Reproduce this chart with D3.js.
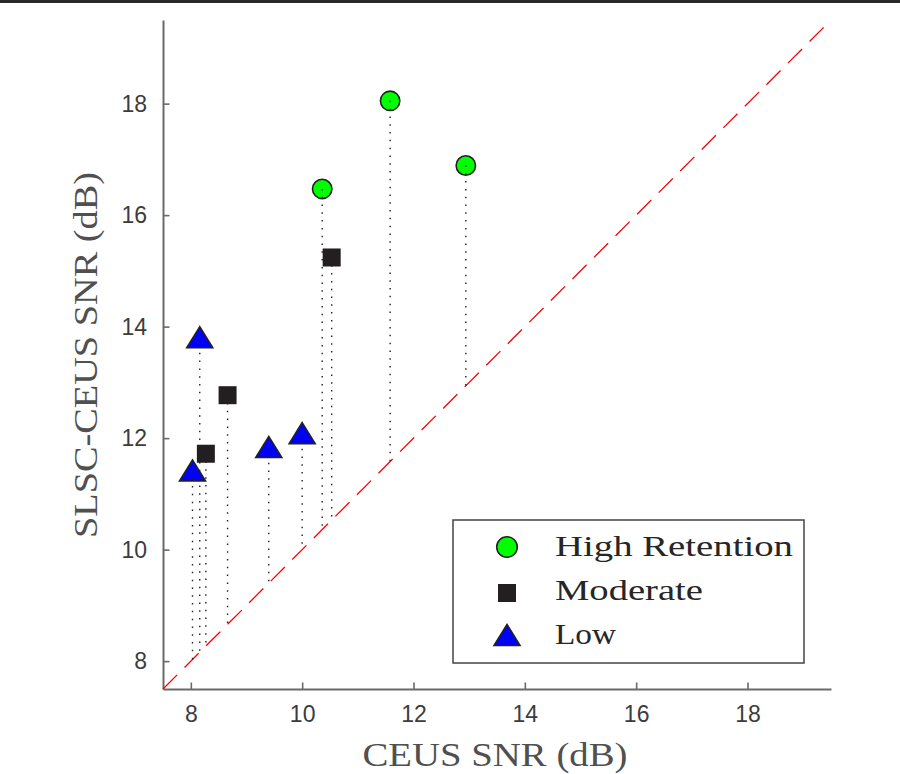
<!DOCTYPE html>
<html>
<head>
<meta charset="utf-8">
<title>SLSC-CEUS vs CEUS SNR</title>
<style>
    body { margin: 0; background: #fff; }
    .axis .domain { stroke: #6a6a6a; stroke-width: 2; }
    .axis .tick line { stroke: #6a6a6a; stroke-width: 1.6; }
    .axis text { font-family: "Liberation Sans", Arial, sans-serif; font-size: 23px; fill: #3c3c3c; }
</style>
</head>
<body>
<svg width="900" height="774"></svg>
<script src="https://d3js.org/d3.v7.min.js"></script>
<script>

    // values
    var highX = [10.36, 11.58, 12.94],
        highY = [16.47, 18.05, 16.89];
    var modX = [8.27, 8.66, 10.53],
        modY = [11.72, 12.77, 15.24];
    var lowX = [8.03, 8.16, 9.40, 10.00],
        lowY = [11.42, 13.81, 11.84, 12.09];
    var xTicks = [8, 10, 12, 14, 16, 18],
        yTicks = [8, 10, 12, 14, 16, 18];
    var legendLabels = ["High Retention", "Moderate", "Low"];
    var legendWidths = [238, 148, 61];

    var svg = d3.select("svg");

    // dark strip along the top edge
    svg.append("rect")
        .attr("x", 0).attr("y", 0)
        .attr("width", 900).attr("height", 3)
        .attr("fill", "#2a2a2a");

    var x = d3.scaleLinear().domain([7.5, 19.5]).range([163, 831]);
    var y = d3.scaleLinear().domain([7.5, 19.5]).range([689, 20]);

    var triangle = "M0,-10.5L13,10.5L-13,10.5Z";

    function pts(xs, ys) {
        return xs.map(function (v, i) { return {x: v, y: ys[i]}; });
    }
    var high = pts(highX, highY), mod = pts(modX, modY), low = pts(lowX, lowY);

    // axes
    svg.append("g")
        .attr("class", "axis")
        .attr("transform", "translate(0,689)")
        .call(d3.axisBottom(x).tickValues(xTicks).tickSizeInner(-6.5).tickSizeOuter(0).tickPadding(17));

    svg.append("g")
        .attr("class", "axis")
        .attr("transform", "translate(163,0)")
        .call(d3.axisLeft(y).tickValues(yTicks).tickSizeInner(-6.5).tickSizeOuter(0).tickPadding(16));

    // y = x reference line
    svg.append("line")
        .attr("x1", x(7.5)).attr("y1", y(7.5))
        .attr("x2", x(19.5)).attr("y2", y(19.5))
        .attr("stroke", "#ff0000")
        .attr("stroke-width", 1.3)
        .attr("stroke-dasharray", "20,10.5");

    // markers
    svg.append("g").selectAll("path")
        .data(low)
        .enter().append("path")
        .attr("d", triangle)
        .attr("transform", function (d) { return "translate(" + x(d.x) + "," + y(d.y) + ")"; })
        .attr("fill", "#0000ff")
        .attr("stroke", "#222")
        .attr("stroke-width", 1.6)
        .attr("stroke-linejoin", "miter");

    svg.append("g").selectAll("rect")
        .data(mod)
        .enter().append("rect")
        .attr("x", function (d) { return x(d.x) - 9; })
        .attr("y", function (d) { return y(d.y) - 9; })
        .attr("width", 18)
        .attr("height", 18)
        .attr("fill", "#231f20");

    svg.append("g").selectAll("circle")
        .data(high)
        .enter().append("circle")
        .attr("cx", function (d) { return x(d.x); })
        .attr("cy", function (d) { return y(d.y); })
        .attr("r", 9.7)
        .attr("fill", "#00ff00")
        .attr("stroke", "#222")
        .attr("stroke-width", 1.6);

    // dotted drop lines down to the diagonal (drawn over the markers)
    svg.append("g").selectAll("line")
        .data(high.concat(mod, low))
        .enter().append("line")
        .attr("x1", function (d) { return x(d.x); })
        .attr("y1", function (d) { return y(d.y); })
        .attr("x2", function (d) { return x(d.x); })
        .attr("y2", function (d) { return y(d.x); })
        .attr("stroke", "#222")
        .attr("stroke-width", 1.4)
        .attr("stroke-dasharray", "1.5,6.3");

    // axis labels
    svg.append("text")
        .attr("x", 495)
        .attr("y", 766)
        .attr("text-anchor", "middle")
        .attr("font-family", "Liberation Serif, serif")
        .attr("font-size", 34)
        .attr("fill", "#505050")
        .attr("textLength", 265)
        .attr("lengthAdjust", "spacingAndGlyphs")
        .text("CEUS SNR (dB)");

    svg.append("text")
        .attr("transform", "translate(97,355) rotate(-90)")
        .attr("text-anchor", "middle")
        .attr("font-family", "Liberation Serif, serif")
        .attr("font-size", 34)
        .attr("fill", "#505050")
        .attr("textLength", 366)
        .attr("lengthAdjust", "spacingAndGlyphs")
        .text("SLSC-CEUS SNR (dB)");

    // legend
    var legend = svg.append("g");

    legend.append("rect")
        .attr("x", 453).attr("y", 520)
        .attr("width", 351).attr("height", 143)
        .attr("fill", "#fff")
        .attr("stroke", "#444")
        .attr("stroke-width", 1.5);

    var rows = legend.selectAll("g")
        .data(legendLabels)
        .enter().append("g")
        .attr("transform", function (d, i) { return "translate(507," + (547 + i * 44) + ")"; });

    rows.each(function (d, i) {
        var r = d3.select(this);
        if (i === 0) {
            r.append("circle").attr("r", 10.3)
                .attr("fill", "#00ff00").attr("stroke", "#222").attr("stroke-width", 1.6);
        } else if (i === 1) {
            r.append("rect").attr("x", -9).attr("y", -7).attr("width", 18).attr("height", 18)
                .attr("fill", "#231f20");
        } else {
            r.append("path").attr("d", triangle)
                .attr("fill", "#0000ff").attr("stroke", "#222").attr("stroke-width", 1.6);
        }
    });

    rows.append("text")
        .attr("x", 48)
        .attr("y", 9)
        .attr("font-family", "Liberation Serif, serif")
        .attr("font-size", 30)
        .attr("fill", "#262626")
        .attr("textLength", function (d, i) { return legendWidths[i]; })
        .attr("lengthAdjust", "spacingAndGlyphs")
        .text(function (d) { return d; });

</script>
</body>
</html>
